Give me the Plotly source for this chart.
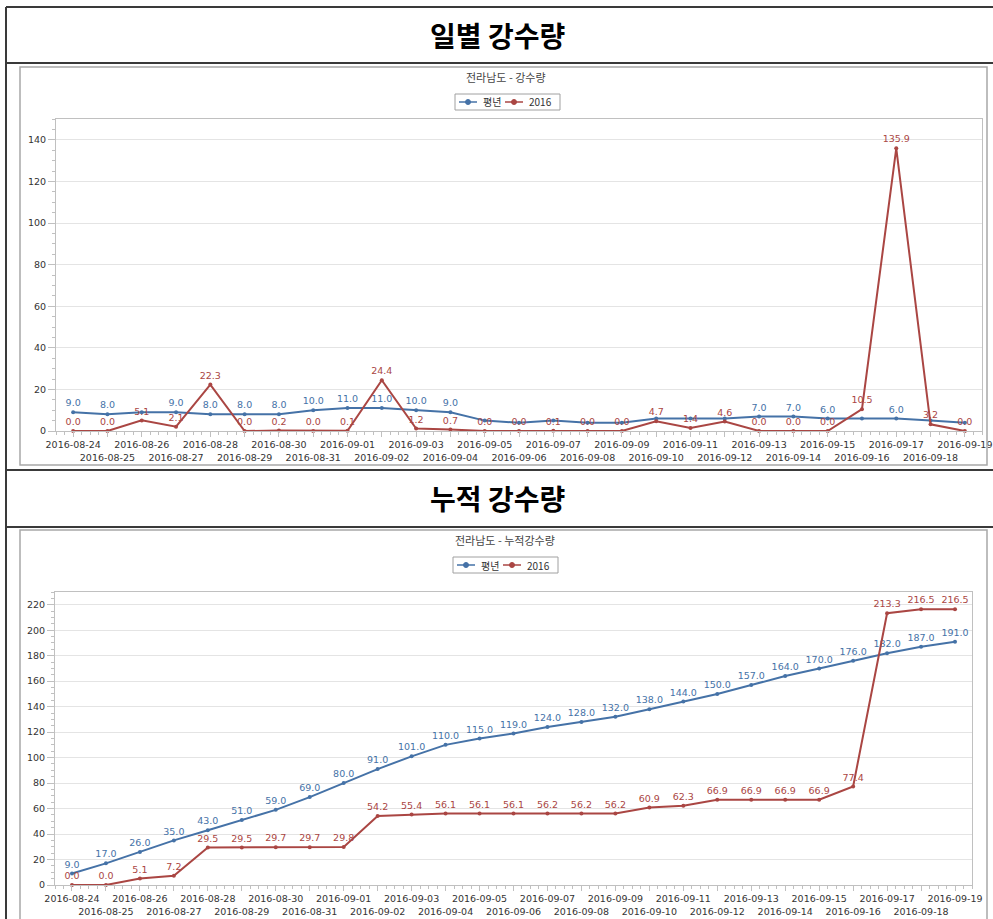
import plotly.graph_objects as go

# ---- data -------------------------------------------------------------
dates = [
    "2016-08-24", "2016-08-25", "2016-08-26", "2016-08-27", "2016-08-28",
    "2016-08-29", "2016-08-30", "2016-08-31", "2016-09-01", "2016-09-02",
    "2016-09-03", "2016-09-04", "2016-09-05", "2016-09-06", "2016-09-07",
    "2016-09-08", "2016-09-09", "2016-09-10", "2016-09-11", "2016-09-12",
    "2016-09-13", "2016-09-14", "2016-09-15", "2016-09-16", "2016-09-17",
    "2016-09-18", "2016-09-19",
]

# daily rainfall (mm)
normal_daily = [9.0, 8.0, 9.0, 9.0, 8.0, 8.0, 8.0, 10.0, 11.0, 11.0, 10.0, 9.0, 5.0, 4.0,
                5.0, 4.0, 4.0, 6.0, 6.0, 6.0, 7.0, 7.0, 6.0, 6.0, 6.0, 5.0, 4.0]
rain2016_daily = [0.0, 0.0, 5.1, 2.1, 22.3, 0.0, 0.2, 0.0, 0.1, 24.4, 1.2, 0.7, 0.0, 0.0,
                  0.1, 0.0, 0.0, 4.7, 1.4, 4.6, 0.0, 0.0, 0.0, 10.5, 135.9, 3.2, 0.0]
# labels of the normal-year daily series that are suppressed where they collide
normal_daily_hidden = {2, 12, 13, 14, 15, 16, 17, 18, 19, 23, 25, 26}

# cumulative rainfall (mm)
normal_cum = [9.0, 17.0, 26.0, 35.0, 43.0, 51.0, 59.0, 69.0, 80.0, 91.0, 101.0, 110.0, 115.0,
              119.0, 124.0, 128.0, 132.0, 138.0, 144.0, 150.0, 157.0, 164.0, 170.0, 176.0,
              182.0, 187.0, 191.0]
rain2016_cum = [0.0, 0.0, 5.1, 7.2, 29.5, 29.5, 29.7, 29.7, 29.8, 54.2, 55.4, 56.1, 56.1,
                56.1, 56.2, 56.2, 56.2, 60.9, 62.3, 66.9, 66.9, 66.9, 66.9, 77.4, 213.3,
                216.5, 216.5]

series_names = ["평년", "2016"]
section_titles = ["일별 강수량", "누적 강수량"]
chart_titles = ["전라남도 - 강수량", "전라남도 - 누적강수량"]

# ---- page geometry (pixels) -------------------------------------------
W, H = 993, 919
BLUE, RED = "#4572A7", "#AA4643"
AXIS_C, GRID_C = "#c0c0c0", "#e4e4e4"
TICK_FONT = dict(family="DejaVu Sans", size=9.5, color="#333333")


def px(x):
    return x / W


def py(y):
    return 1 - y / H


idx = list(range(len(dates)))
ticktext = [d if i % 2 == 0 else "<br>" + d for i, d in enumerate(dates)]
minor_vals = [i + f for i in range(-1, len(dates)) for f in (0.25, 0.5, 0.75)]

fig = go.Figure()


def add_series(xa, ya, yvals, color, name, hidden=()):
    labels = ["" if i in hidden else f"{v:.1f}" for i, v in enumerate(yvals)]
    fig.add_trace(go.Scatter(
        x=idx, y=yvals, name=name, xaxis=xa, yaxis=ya,
        mode="lines+markers+text", text=labels, textposition="top center",
        textfont=dict(family="DejaVu Sans", size=9.5, color=color),
        line=dict(color=color, width=2), marker=dict(color=color, size=4),
        cliponaxis=False, showlegend=False, hoverinfo="skip",
    ))


add_series("x", "y", normal_daily, BLUE, series_names[0], normal_daily_hidden)
add_series("x", "y", rain2016_daily, RED, series_names[1])
add_series("x2", "y2", normal_cum, BLUE, series_names[0])
add_series("x2", "y2", rain2016_cum, RED, series_names[1])


def xaxis_cfg(left, right, anchor):
    return dict(
        domain=[px(left), px(right)], range=[-0.5, len(dates) - 0.5], anchor=anchor,
        tickmode="array", tickvals=idx, ticktext=ticktext, tickfont=TICK_FONT,
        tickangle=0, automargin=False,
        ticks="outside", ticklen=5, tickcolor=AXIS_C, showgrid=False, zeroline=False,
        showline=True, linecolor=AXIS_C, linewidth=1, mirror=True, fixedrange=True,
        minor=dict(tickmode="array", tickvals=minor_vals, ticks="outside",
                   ticklen=3, tickcolor=AXIS_C),
    )


def yaxis_cfg(top, bottom, ymax, anchor):
    return dict(
        domain=[py(bottom), py(top)], range=[0, ymax], anchor=anchor, automargin=False,
        tick0=0, dtick=20, tickfont=TICK_FONT, ticks="outside", ticklen=7,
        tickcolor=AXIS_C, showgrid=True, gridcolor=GRID_C, zeroline=False,
        showline=True, linecolor=AXIS_C, linewidth=1, mirror=True, fixedrange=True,
        minor=dict(dtick=5, ticks="outside", ticklen=3, tickcolor=AXIS_C),
    )


shapes, annotations = [], []


def line(x0, y0, x1, y1, color, width):
    shapes.append(dict(type="line", xref="paper", yref="paper",
                       x0=px(x0), y0=py(y0), x1=px(x1), y1=py(y1),
                       line=dict(color=color, width=width)))


def text(x, y, s, size, color, family, xanchor="center", bold=False):
    annotations.append(dict(
        xref="paper", yref="paper", x=px(x), y=py(y), text=f"<b>{s}</b>" if bold else s,
        showarrow=False, xanchor=xanchor, yanchor="middle",
        font=dict(family=family, size=size, color=color)))


def legend(cx, cy):
    shapes.append(dict(type="rect", xref="paper", yref="paper",
                       x0=px(cx - 52), y0=py(cy + 8), x1=px(cx + 53), y1=py(cy - 8),
                       line=dict(color="#a0a0a0", width=1), fillcolor="white"))
    for off, color, name in ((-48, BLUE, series_names[0]), (-2, RED, series_names[1])):
        line(cx + off, cy, cx + off + 18, cy, color, 1.5)
        shapes.append(dict(type="circle", xref="paper", yref="paper",
                           x0=px(cx + off + 6.5), y0=py(cy + 2.5),
                           x1=px(cx + off + 11.5), y1=py(cy - 2.5),
                           line=dict(color=color, width=1), fillcolor=color))
        text(cx + off + 22, cy, name, 10, "#333333", "Noto Sans CJK KR, DejaVu Sans", "left")


# outer table frame (the right edge runs just past the page)
DARK = "#3a3a3a"
line(6, 7, 993, 7, DARK, 2)
line(6, 63, 993, 63, DARK, 2)
line(6, 470, 993, 470, DARK, 2)
line(6, 527, 993, 527, DARK, 2)
line(6, 7, 6, 919, DARK, 2)

# chart frames
for top, bottom in ((67, 465), (530, 925)):
    shapes.append(dict(type="rect", xref="paper", yref="paper",
                       x0=px(20), y0=py(bottom), x1=px(987), y1=py(top),
                       line=dict(color="#a8a8a8", width=1.5)))

# section headers
text(497, 35, section_titles[0], 28, "#000000", "Noto Sans CJK KR", bold=True)
text(497, 498, section_titles[1], 28, "#000000", "Noto Sans CJK KR", bold=True)

# chart titles and legends
text(506, 77, chart_titles[0], 11, "#444444", "Noto Sans CJK KR")
text(505, 540, chart_titles[1], 11, "#444444", "Noto Sans CJK KR")
legend(507, 102)
legend(505, 565)

fig.update_layout(
    width=W, height=H, margin=dict(l=0, r=0, t=0, b=0),
    paper_bgcolor="white", plot_bgcolor="white", showlegend=False,
    xaxis=xaxis_cfg(56, 982, "y"), yaxis=yaxis_cfg(119, 431, 150, "x"),
    xaxis2=xaxis_cfg(55, 972, "y2"), yaxis2=yaxis_cfg(592, 885, 230, "x2"),
    shapes=shapes, annotations=annotations,
)

fig.write_html("out.html")
